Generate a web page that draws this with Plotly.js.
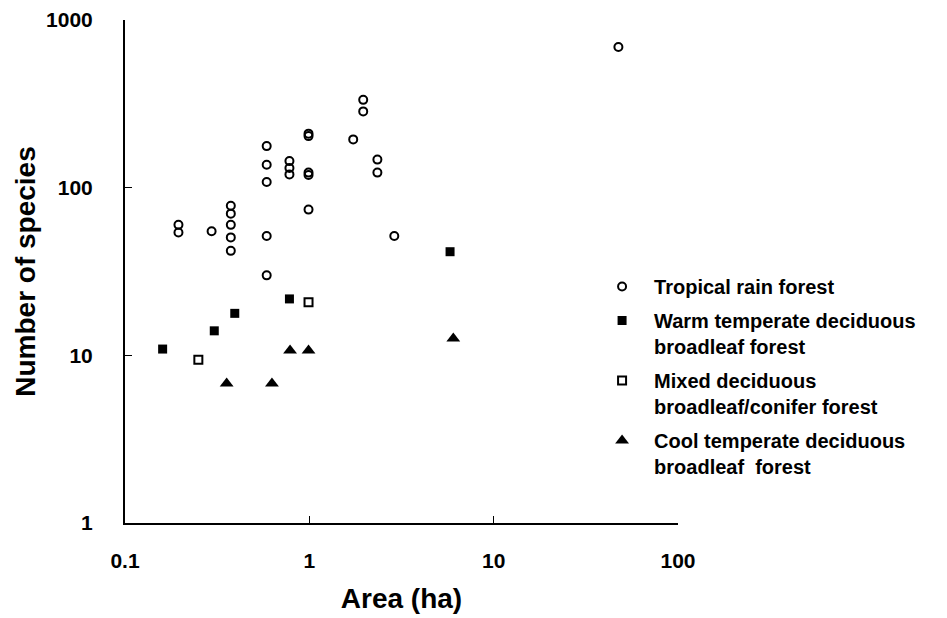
<!DOCTYPE html>
<html>
<head>
<meta charset="utf-8">
<script src="https://cdn.plot.ly/plotly-3.0.1.min.js"></script>
<style>
  html, body { margin: 0; padding: 0; background: #fff; }
  #chart { width: 947px; height: 618px; }
</style>
</head>
<body>
<div id="chart"></div>
<script>
// Area (ha) and number of species per forest type
const tropicalArea = [0.195, 0.195, 0.295, 0.375, 0.375, 0.375, 0.375, 0.375,
  0.587, 0.587, 0.587, 0.587, 0.587, 0.78, 0.78, 0.78,
  0.99, 0.99, 0.99, 0.99, 0.99, 1.73, 1.96, 1.96, 2.34, 2.34, 2.89, 47.5];
const tropicalSpecies = [60, 54, 55, 78, 70, 60, 50.5, 42,
  177, 137, 108, 51.5, 30, 144, 131, 120,
  210, 203, 123, 119, 74, 194, 334, 285, 147, 123, 51.5, 690];

const warmArea = [0.16, 0.305, 0.394, 0.78, 5.8];
const warmSpecies = [10.9, 14.0, 17.8, 21.7, 41.5];

const mixedArea = [0.25, 0.99];
const mixedSpecies = [9.4, 20.7];

const coolArea = [0.356, 0.627, 0.786, 0.99, 6.04];
const coolSpecies = [6.8, 6.8, 10.7, 10.7, 12.6];

const seriesNames = [
  'Tropical rain forest',
  'Warm temperate deciduous<br>broadleaf forest',
  'Mixed deciduous<br>broadleaf/conifer forest',
  'Cool temperate deciduous<br>broadleaf  forest'
];

const xTicks = [0.1, 1, 10, 100];
const xTickText = ['0.1', '1', '10', '100'];
const yTicks = [1, 10, 100, 1000];
const yTickText = ['1', '10', '100', '1000'];

const FONT = 'Liberation Sans, Arial, Helvetica, sans-serif';

const traces = [
  {
    x: tropicalArea, y: tropicalSpecies, name: seriesNames[0], legendgroup: 'a',
    type: 'scatter', mode: 'markers',
    marker: { symbol: 'circle-open', size: 8, color: '#000', line: { width: 2, color: '#000' } }
  },
  {
    x: warmArea, y: warmSpecies, name: seriesNames[1], legendgroup: 'b',
    type: 'scatter', mode: 'markers',
    marker: { symbol: 'square', size: 9, color: '#000', line: { width: 0 } }
  },
  {
    x: mixedArea, y: mixedSpecies, name: seriesNames[2], legendgroup: 'c',
    type: 'scatter', mode: 'markers',
    marker: { symbol: 'square-open', size: 8, color: '#000', line: { width: 2, color: '#000' } }
  },
  {
    x: coolArea, y: coolSpecies, name: seriesNames[3], legendgroup: 'd',
    type: 'scatter', mode: 'markers',
    marker: { symbol: 'triangle-up', size: 12, color: '#000', line: { width: 0 } }
  }
];

const layout = {
  width: 947, height: 618,
  margin: { l: 125, r: 269, t: 20, b: 95 },
  paper_bgcolor: '#fff', plot_bgcolor: '#fff',
  font: { family: FONT, color: '#000', weight: 'bold' },
  showlegend: true,
  legend: {
    x: 0.841, xanchor: 'left', y: 0.509, yanchor: 'top',
    font: { family: FONT, size: 20, color: '#000', weight: 'bold' },
    traceorder: 'grouped', tracegroupgap: 5,
    valign: 'top', itemwidth: 54,
    bgcolor: 'rgba(0,0,0,0)', borderwidth: 0
  },
  xaxis: {
    type: 'log', range: [-1, 2],
    tickvals: xTicks, ticktext: xTickText,
    ticks: 'inside', ticklen: 7, tickwidth: 1.5, tickcolor: '#000',
    showline: true, linecolor: '#000', linewidth: 2,
    showgrid: false, zeroline: false, mirror: false,
    tickfont: { family: FONT, size: 21, color: '#000', weight: 'bold' },
    ticklabelstandoff: 18,
    title: { text: 'Area (ha)', font: { family: FONT, size: 28, color: '#000', weight: 'bold' }, standoff: 17 }
  },
  yaxis: {
    type: 'log', range: [0, 3],
    tickvals: yTicks, ticktext: yTickText,
    ticks: 'inside', ticklen: 7, tickwidth: 1.5, tickcolor: '#000',
    showline: true, linecolor: '#000', linewidth: 2,
    showgrid: false, zeroline: false, mirror: false,
    tickfont: { family: FONT, size: 21, color: '#000', weight: 'bold' },
    ticklabelstandoff: 26,
    title: { text: 'Number of species', font: { family: FONT, size: 28, color: '#000', weight: 'bold' }, standoff: 2 }
  }
};

Plotly.newPlot('chart', traces, layout, { displayModeBar: false, staticPlot: true });
</script>
</body>
</html>
